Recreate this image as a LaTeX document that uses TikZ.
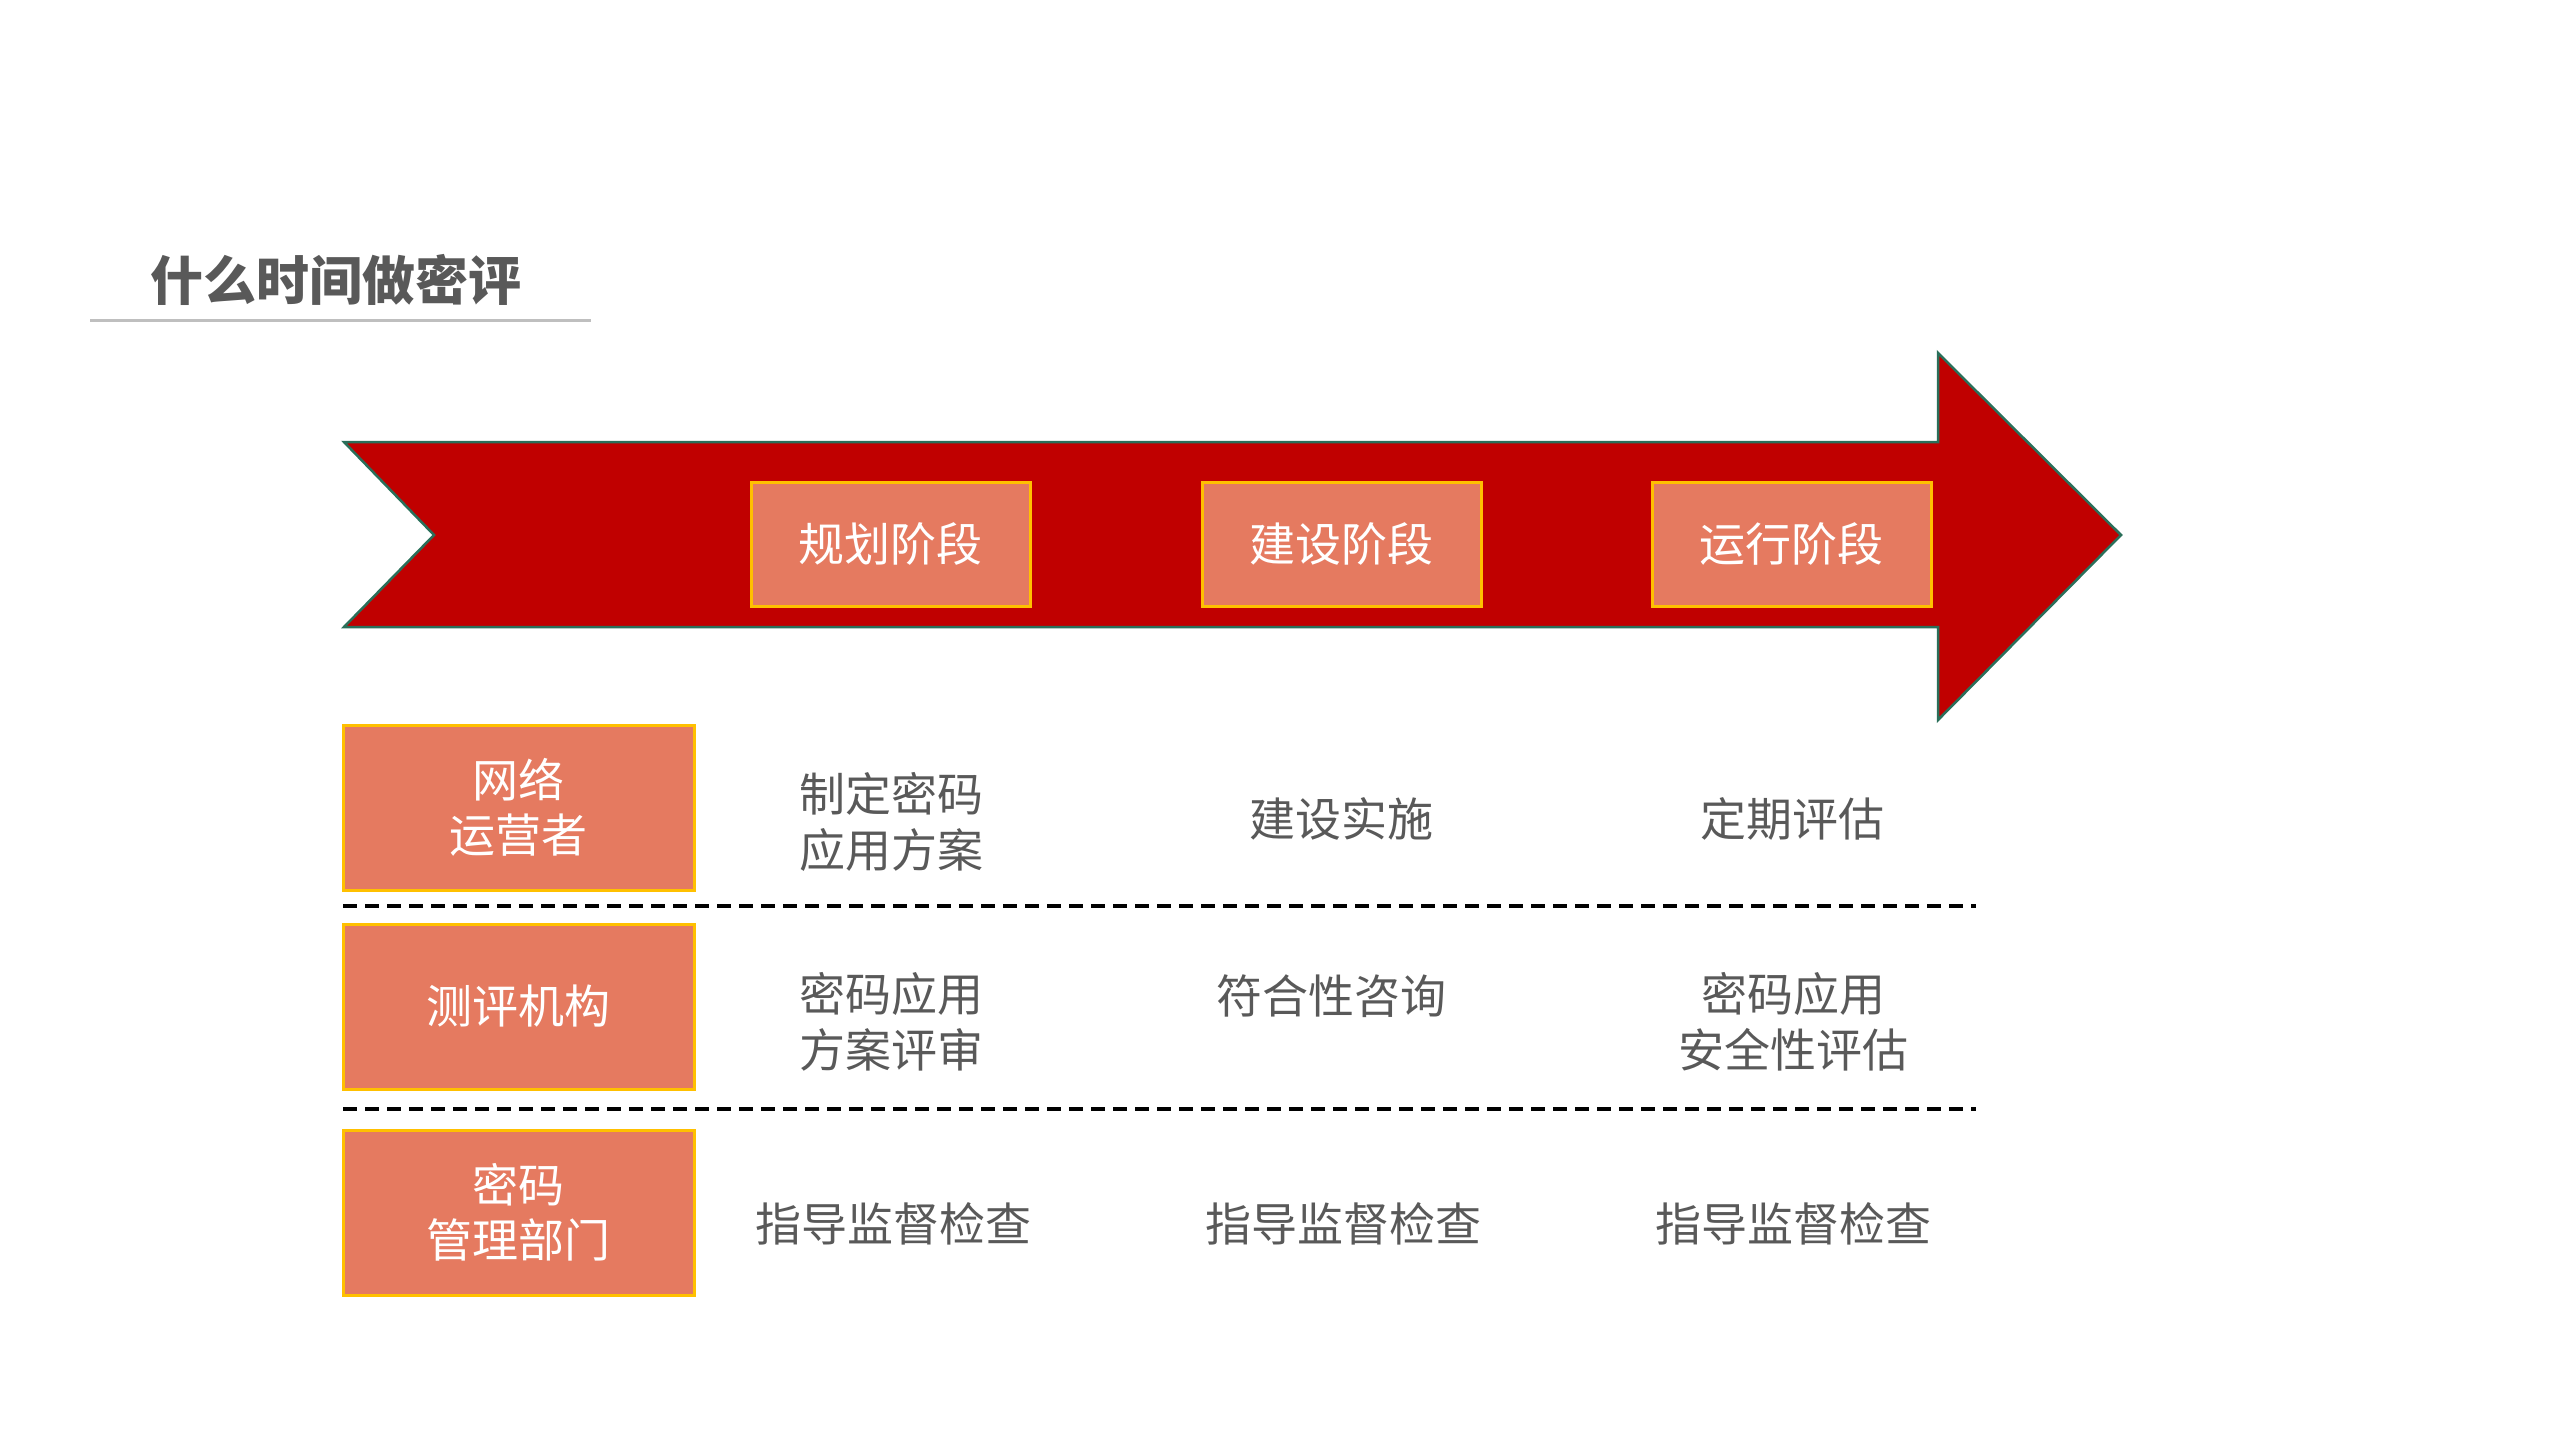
\documentclass[tikz,border=0pt]{standalone}
\usepackage{fontspec}
\newfontfamily\cjk{Noto Sans CJK SC}
\definecolor{arrowred}{HTML}{C00000}
\definecolor{arrowedge}{HTML}{2A6F5A}
\definecolor{boxfill}{HTML}{E57A60}
\definecolor{boxedge}{HTML}{FFC000}
\definecolor{txtgray}{HTML}{595959}
\definecolor{rulegray}{HTML}{BFBFBF}
\begin{document}
\begin{tikzpicture}[x=1pt,y=-1pt,
  cjkfont/.style={font=\cjk\fontsize{46}{55.5}\selectfont},
  phasebox/.style={draw=boxedge, fill=boxfill, line width=3pt, minimum width=279pt, minimum height=124pt, inner sep=0pt, text=white, cjkfont},
  rolebox/.style={draw=boxedge, fill=boxfill, line width=3pt, minimum width=351pt, minimum height=165pt, inner sep=0pt, text=white, align=center, cjkfont},
  celltext/.style={text=txtgray, align=center, inner sep=0pt, cjkfont},
  sepline/.style={line width=3.5pt, dash pattern=on 14pt off 8pt}
]
\useasboundingbox (0,0) rectangle (2560,1440);

% title
\node[anchor=west, inner sep=0pt, text=txtgray, font=\cjk\bfseries\fontsize{53}{60}\selectfont] (title) at (150,280) {什么时间做密评};
\coordinate (ulA) at (90,320);
\coordinate (ulB) at (591,320);
\draw[rulegray, line width=3pt] (ulA) -- (ulB);

% big arrow
\draw[fill=arrowred, draw=arrowedge, line width=2.5pt, line join=miter]
  (344,442) -- (1938,442) -- (1938,353) -- (2121,535) -- (1938,720) -- (1938,627) -- (344,627) -- (434,535) -- cycle;

% phase boxes
\node[phasebox] (p1) at (890.5,544) {\raisebox{-3pt}{规划阶段}};
\node[phasebox] (p2) at (1341.5,544) {\raisebox{-3pt}{建设阶段}};
\node[phasebox] (p3) at (1791.5,544) {\raisebox{-3pt}{运行阶段}};

% role boxes
\node[rolebox] (r1) at (518.5,807.5) {网络\\运营者};
\node[rolebox] (r2) at (518.5,1006.5) {\raisebox{-3pt}{测评机构}};
\node[rolebox] (r3) at (518.5,1212.5) {密码\\管理部门};

% dashed separators
\coordinate (s1a) at (343,906);
\coordinate (s1b) at (1976,906);
\coordinate (s2a) at (343,1109);
\coordinate (s2b) at (1976,1109);
\draw[sepline] (s1a) -- (s1b);
\draw[sepline] (s2a) -- (s2b);

% cells row 1
\node[celltext] (c11) at (891,822) {制定密码\\应用方案};
\node[celltext] (c12) at (1341,819) {建设实施};
\node[celltext] (c13) at (1792,819) {定期评估};
% row 2
\node[celltext] (c21) at (891,1022) {密码应用\\方案评审};
\node[celltext] (c22) at (1331,996) {符合性咨询};
\node[celltext] (c23) at (1793,1022) {密码应用\\安全性评估};
% row 3
\node[celltext] (c31) at (893,1224) {指导监督检查};
\node[celltext] (c32) at (1343,1224) {指导监督检查};
\node[celltext] (c33) at (1793,1224) {指导监督检查};
\end{tikzpicture}
\end{document}
